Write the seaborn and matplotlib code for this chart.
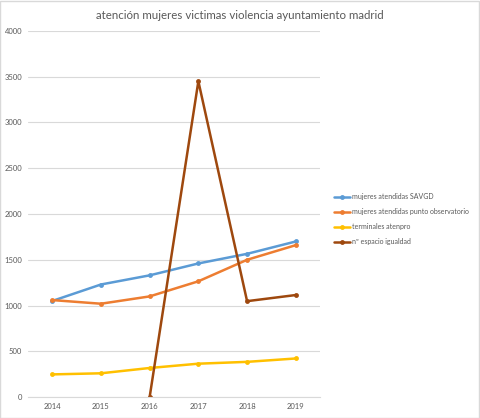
import seaborn as sns
import pandas as pd
import numpy as np
import matplotlib.pyplot as plt

years = [2014, 2015, 2016, 2017, 2018, 2019]
savgd = [1050, 1230, 1330, 1460, 1565, 1700]
observatorio = [1060, 1020, 1100, 1265, 1500, 1660]
atenpro = [248, 260, 318, 365, 385, 422]
igualdad = [np.nan, np.nan, 0, 3450, 1048, 1115]

names = ["mujeres atendidas SAVGD", "mujeres atendidas punto observatorio",
         "terminales atenpro", "nº espacio igualdad"]
colors = ["#5B9BD5", "#ED7D31", "#FFC000", "#9E480E"]

df = pd.concat([
    pd.DataFrame({"year": years, "value": vals, "serie": name})
    for name, vals in zip(names, [savgd, observatorio, atenpro, igualdad])
], ignore_index=True)

sns.set_style("white")
plt.rcParams['font.family'] = ['Lato', 'DejaVu Sans']

fig = plt.figure(figsize=(4.8, 4.18), dpi=100)
ax = fig.add_axes([0.058, 0.05, 0.609, 0.876])

sns.lineplot(data=df, x="year", y="value", hue="serie", hue_order=names,
             palette=colors, marker="o", markersize=3.5, markeredgewidth=0,
             linewidth=1.8, ax=ax)

ax.set_xlim(2013.5, 2019.5)
ax.set_ylim(0, 4000)
ax.set_yticks(range(0, 4001, 500))
ax.set_xticks(years)
ax.yaxis.grid(True, color="#D9D9D9", linewidth=0.8)
ax.set_axisbelow(True)
for side in ["left", "right", "top"]:
    ax.spines[side].set_visible(False)
ax.spines["bottom"].set_color("#D9D9D9")
ax.tick_params(axis="both", labelsize=5.5, labelcolor="#595959", length=0, pad=4)
ax.set_xlabel("")
ax.set_ylabel("")

ax.legend(loc="center left", bbox_to_anchor=(1.025, 0.486), frameon=False,
          fontsize=5.0, labelcolor="#595959", handlelength=2.4,
          handletextpad=0.3, labelspacing=1.15)

fig.text(0.5, 0.963, "atención mujeres victimas violencia ayuntamiento madrid",
         ha="center", va="center", fontsize=8.3, color="#595959")

fig.patches.append(plt.Rectangle((0.001, 0.001), 0.997, 0.997, transform=fig.transFigure,
                                 fill=False, edgecolor="#D9D9D9", linewidth=1))

plt.savefig("out.png", dpi=100)
